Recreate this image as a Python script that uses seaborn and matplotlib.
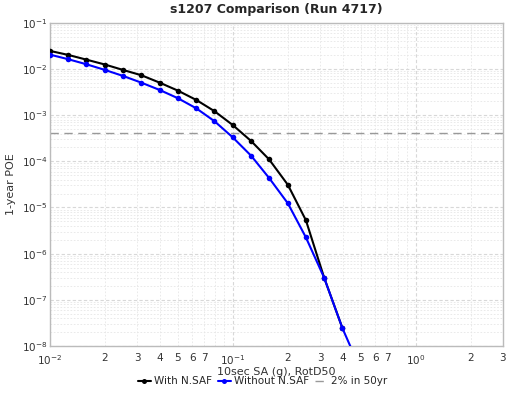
import numpy as np
import pandas as pd
import seaborn as sns
import matplotlib.pyplot as plt
from matplotlib.ticker import LogLocator, FuncFormatter, NullFormatter

# hazard curve values
sa_with = [0.01, 0.0126, 0.0158, 0.02, 0.0251, 0.0316, 0.0398, 0.0501, 0.0631,
           0.0794, 0.1, 0.126, 0.158, 0.2, 0.251, 0.316, 0.398]
poe_with = [0.0247, 0.0202, 0.0160, 0.0125, 0.00955, 0.00734, 0.00507, 0.00340,
            0.00214, 0.00122, 6.1e-4, 2.75e-4, 1.10e-4, 3.1e-5, 5.3e-6, 3.0e-7, 2.4e-8]
sa_without = [0.01, 0.0126, 0.0158, 0.02, 0.0251, 0.0316, 0.0398, 0.0501, 0.0631,
              0.0794, 0.1, 0.126, 0.158, 0.2, 0.251, 0.316, 0.398, 0.501]
poe_without = [0.0205, 0.0163, 0.0127, 0.00955, 0.00708, 0.00507, 0.00352, 0.00233,
               0.00141, 7.4e-4, 3.3e-4, 1.32e-4, 4.35e-5, 1.23e-5, 2.25e-6, 3.0e-7,
               2.4e-8, 3.0e-9]
poe_2in50 = 1 - 0.98 ** (1 / 50)

sns.set_style("white")
plt.rcParams['font.family'] = ['DejaVu Sans']

fig = plt.figure(figsize=(5.25, 3.94), dpi=100)
ax = fig.add_axes([0.095, 0.122, 0.863, 0.820])

df_with = pd.DataFrame({"sa": sa_with, "poe": poe_with})
df_without = pd.DataFrame({"sa": sa_without, "poe": poe_without})

ax.axhline(poe_2in50, color="#999999", lw=1, ls=(0, (6, 4)), label="2% in 50yr", zorder=1)
sns.lineplot(data=df_with, x="sa", y="poe", ax=ax, color="black", lw=1.5,
             marker="o", markersize=4, markeredgewidth=0, label="With N.SAF", zorder=3)
sns.lineplot(data=df_without, x="sa", y="poe", ax=ax, color="#0000ff", lw=1.5,
             marker="o", markersize=4, markeredgewidth=0, label="Without N.SAF", zorder=4)

ax.set_xscale("log")
ax.set_yscale("log")
ax.set_xlim(0.01, 3)
ax.set_ylim(1e-8, 1e-1)


def major_fmt(v, pos):
    e = int(round(np.log10(v)))
    return r"$10^{%d}$" % e


def minor_fmt(v, pos):
    m = v / 10 ** np.floor(np.log10(v) + 1e-9)
    m = int(round(m))
    return str(m) if 2 <= m <= 7 else ""


ax.xaxis.set_major_locator(LogLocator(base=10, numticks=20))
ax.xaxis.set_minor_locator(LogLocator(base=10, subs=np.arange(2, 10), numticks=50))
ax.xaxis.set_major_formatter(FuncFormatter(major_fmt))
ax.xaxis.set_minor_formatter(FuncFormatter(minor_fmt))
ax.yaxis.set_major_locator(LogLocator(base=10, numticks=20))
ax.yaxis.set_minor_locator(LogLocator(base=10, subs=np.arange(2, 10), numticks=50))
ax.yaxis.set_major_formatter(FuncFormatter(major_fmt))
ax.yaxis.set_minor_formatter(NullFormatter())

ax.tick_params(which="both", length=0, labelsize=7.5, colors="#333333")
ax.tick_params(axis="x", which="both", pad=5)
ax.tick_params(axis="y", which="both", pad=2)
ax.grid(which="major", color="#d8d8d8", lw=0.8, ls=(0, (3, 2)))
ax.grid(which="minor", color="#e6e6e6", lw=0.6, ls=(0, (2, 2)))
for s in ax.spines.values():
    s.set_color("#bbbbbb")
    s.set_linewidth(1)

ax.set_xlabel("10sec SA (g), RotD50", fontsize=8, color="#333333", labelpad=0)
ax.set_ylabel("1-year POE", fontsize=8, color="#333333", labelpad=4)
ax.set_title("s1207 Comparison (Run 4717)", fontsize=9, fontweight="bold", pad=7)

handles, labels = ax.get_legend_handles_labels()
order = [labels.index("With N.SAF"), labels.index("Without N.SAF"), labels.index("2% in 50yr")]
ax.get_legend().remove()
fig.legend([handles[i] for i in order], [labels[i] for i in order], loc="center",
           bbox_to_anchor=(0.5, 0.032), ncol=3, frameon=False, fontsize=7.5,
           handlelength=1.2, handletextpad=0.3, columnspacing=0.6, markerscale=0.9)

fig.savefig("out.png", dpi=100)
